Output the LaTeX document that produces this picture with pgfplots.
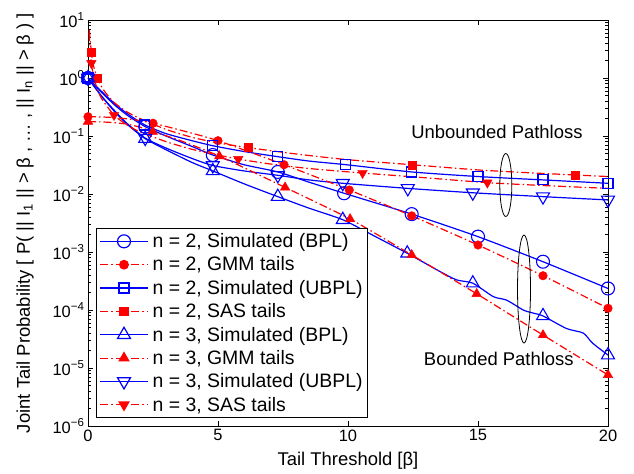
\documentclass[border=0pt]{standalone}
\usepackage{fontspec}
\setmainfont{Liberation Sans}
\usepackage{pgfplots}
\pgfplotsset{compat=1.18}

\begin{document}
\begin{tikzpicture}
\begin{axis}[
    scale only axis,
    width=520bp, height=406bp,
    ymode=log,
    xmin=0, xmax=20, ymin=1e-6, ymax=10,
    xtick={0,5,10,15,20},
    ytick={1e-6,1e-5,1e-4,1e-3,1e-2,1e-1,1,10},
    yticklabels={10\textsuperscript{−6},10\textsuperscript{−5},10\textsuperscript{−4},10\textsuperscript{−3},10\textsuperscript{−2},10\textsuperscript{−1},10\textsuperscript{0},10\textsuperscript{1}},
    /pgf/number format/assume math mode=true,
    tick label style={font=\fontsize{16.5}{18}\selectfont},
    tick align=inside, tick pos=both,
    major tick length=5bp, minor tick length=3bp,
    axis line style={line width=0.8bp},
    every tick/.style={black, line width=0.6bp},
    xlabel={Tail Threshold [β]},
    ylabel={Joint Tail Probability [ P( || I\textsubscript{1} || > β , … , || I\textsubscript{n} || > β ) ]},
    every axis x label/.style={at={(axis description cs:0.5,-0.086)}, anchor=center, font=\fontsize{18.5}{20}\selectfont},
    every axis y label/.style={at={(axis description cs:-0.121,0.5)}, anchor=center, rotate=90, font=\fontsize{18.5}{20}\selectfont},
    legend style={at={(axis description cs:0.0154,0.0197)}, anchor=south west,
      font=\fontsize{19.5}{21}\selectfont, draw=black, line width=0.8bp,
      row sep=3.8bp, column sep=2bp, inner sep=3bp},
    legend cell align=left,
    legend image code/.code={\draw[mark repeat=2,mark phase=2,#1] plot coordinates {(0bp,0bp) (24bp,0bp) (48bp,0bp)};},
    clip=true,
]
% ---- simulated curves (blue, solid)
\addplot[blue, line width=1.2bp, smooth, tension=0.4, forget plot] coordinates {
 (0,1) (0.5,0.58) (1,0.35) (1.5,0.23) (2.2,0.145) (3,0.1) (4,0.066) (4.8,0.047)
 (6,0.032) (7.3,0.024) (8.5,0.016) (9.85,0.0103) (12.45,0.0045) (15,0.00184)
 (17.5,6.8e-4) (20,2.35e-4)};
\addplot[blue, line width=1.2bp, smooth, tension=0.4, forget plot] coordinates {
 (0,1) (0.5,0.6) (1,0.37) (1.5,0.245) (2.19,0.155) (3,0.11) (4,0.083) (4.8,0.068)
 (6,0.054) (7.3,0.044) (8.5,0.037) (9.92,0.032) (12.45,0.024) (15,0.020)
 (17.5,0.0175) (20,0.0153)};
\addplot[blue, line width=1.2bp, smooth, tension=0.4, forget plot] coordinates {
 (0,1) (0.5,0.5) (1,0.27) (1.5,0.16) (2.2,0.09) (3,0.058) (4,0.035) (4.8,0.025)
 (6,0.015) (7.3,0.009) (8.5,0.0057) (9.8,0.0036) (11,0.0019) (12.28,9.5e-4)
 (13.54,4.6e-4) (14.18,3.3e-4) (14.8,2.9e-4) (15.59,1.7e-4) (16.1,1.48e-4)
 (16.74,1.0e-4) (17.1,8.9e-5) (17.5,7.9e-5) (18.4,4.8e-5) (19.05,4.0e-5)
 (19.4,2.7e-5) (20,1.67e-5)};
\addplot[blue, line width=1.2bp, smooth, tension=0.4, forget plot] coordinates {
 (0,1) (0.5,0.5) (1,0.28) (1.5,0.165) (2.2,0.092) (3,0.062) (4,0.041) (4.8,0.031)
 (6,0.025) (7.3,0.021) (8.5,0.0175) (9.8,0.0153) (12.3,0.0125) (14.8,0.0105)
 (17.5,0.009) (20,0.0079)};
% ---- model tails (red, dash-dot)
\addplot[red, line width=1.2bp, dash pattern=on 8bp off 3bp on 1.5bp off 3bp, smooth, tension=0.4, forget plot] coordinates {
 (0,0.215) (0.5,0.213) (1,0.208) (1.5,0.198) (2,0.184) (2.5,0.166) (3.5,0.128)
 (5,0.083) (7.54,0.032) (10.05,0.0117) (12.45,0.0042) (15,0.00132) (17.5,3.9e-4)
 (20,1.07e-4)};
\addplot[red, line width=1.2bp, dash pattern=on 8bp off 3bp on 1.5bp off 3bp, smooth, tension=0.4, forget plot] coordinates {
 (0.05,6.7) (0.13,2.8) (0.2,1.7) (0.36,1.0) (0.6,0.62) (1,0.38) (1.5,0.26) (2,0.2)
 (3,0.13) (4,0.095) (5,0.076) (6.17,0.063) (8,0.049) (10,0.039) (12.45,0.032)
 (15,0.026) (17,0.0232) (18.73,0.0213) (20,0.02)};
\addplot[red, line width=1.2bp, dash pattern=on 8bp off 3bp on 1.5bp off 3bp, smooth, tension=0.4, forget plot] coordinates {
 (0,0.177) (0.5,0.175) (1,0.17) (1.5,0.16) (2,0.142) (2.49,0.119) (3.5,0.085)
 (5.05,0.045) (7.58,0.013) (10.08,0.0037) (12.45,8.9e-4) (14.95,1.9e-4)
 (17.5,3.7e-5) (20,7.6e-6)};
\addplot[red, line width=1.2bp, dash pattern=on 8bp off 3bp on 1.5bp off 3bp, smooth, tension=0.4, forget plot] coordinates {
 (0.04,6) (0.13,1.8) (0.25,0.92) (0.5,0.46) (1,0.23) (1.5,0.155) (2,0.118) (3,0.08)
 (4,0.059) (5,0.047) (5.78,0.04) (7,0.033) (8.5,0.0275) (10.56,0.023) (13,0.019)
 (15.36,0.0157) (17.5,0.014) (20,0.0125)};
% ---- markers
\addplot[blue, only marks, mark=o, mark size=6.5bp, line width=1.1bp, forget plot] coordinates {
 (0,1) (2.2,0.145) (4.8,0.047) (7.3,0.024) (9.85,0.0103) (12.45,0.0045) (15,0.00184) (17.5,6.8e-4) (20,2.35e-4)};
\addplot[red, only marks, mark=*, mark size=4.3bp, forget plot] coordinates {
 (0,0.215) (2.5,0.166) (5,0.083) (7.54,0.032) (10.05,0.0117) (12.45,0.0042) (15,0.00132) (17.5,3.9e-4) (20,1.07e-4)};
\addplot[blue, only marks, mark=square, mark size=5bp, line width=1.1bp, forget plot] coordinates {
 (0,1) (2.19,0.155) (4.8,0.068) (7.3,0.044) (9.92,0.032) (12.45,0.024) (15,0.020) (17.5,0.0175) (20,0.0153)};
\addplot[red, only marks, mark=square*, mark size=4bp, forget plot] coordinates {
 (0.13,2.8) (0.36,1.0) (6.17,0.063) (12.45,0.032) (18.73,0.0213)};
\addplot[blue, only marks, mark=triangle, mark size=7.5bp, line width=1.1bp, forget plot] coordinates {
 (0,1) (2.2,0.09) (4.8,0.025) (7.3,0.009) (9.8,0.0036) (12.28,9.5e-4) (14.8,2.9e-4) (17.5,7.9e-5) (20,1.67e-5)};
\addplot[red, only marks, mark=triangle*, mark size=5.5bp, forget plot] coordinates {
 (0,0.177) (2.49,0.119) (5.05,0.045) (7.58,0.013) (10.08,0.0037) (12.45,8.9e-4) (14.95,1.9e-4) (17.5,3.7e-5) (20,7.6e-6)};
\addplot[blue, only marks, mark=triangle, mark options={rotate=180}, mark size=7.5bp, line width=1.1bp, forget plot] coordinates {
 (0,1) (2.2,0.092) (4.8,0.031) (7.3,0.021) (9.8,0.0153) (12.3,0.0125) (14.8,0.0105) (17.5,0.009) (20,0.0079)};
\addplot[red, only marks, mark=triangle*, mark options={rotate=180}, mark size=5.5bp, forget plot] coordinates {
 (0.13,1.8) (1,0.23) (5.78,0.04) (10.56,0.023) (15.36,0.0157)};
% ---- legend
\addlegendimage{blue, line width=1.2bp, mark=o, mark size=6.5bp}
\addlegendentry{n = 2, Simulated (BPL)}
\addlegendimage{red, line width=1.2bp, dash pattern=on 8bp off 3bp on 1.5bp off 3bp, mark=*, mark size=4.3bp, mark options={solid}}
\addlegendentry{n = 2, GMM tails}
\addlegendimage{blue, line width=1.2bp, mark=square, mark size=5bp}
\addlegendentry{n = 2, Simulated (UBPL)}
\addlegendimage{red, line width=1.2bp, dash pattern=on 8bp off 3bp on 1.5bp off 3bp, mark=square*, mark size=4bp, mark options={solid}}
\addlegendentry{n = 2, SAS tails}
\addlegendimage{blue, line width=1.2bp, mark=triangle, mark size=7.5bp}
\addlegendentry{n = 3, Simulated (BPL)}
\addlegendimage{red, line width=1.2bp, dash pattern=on 8bp off 3bp on 1.5bp off 3bp, mark=triangle*, mark size=5.5bp, mark options={solid}}
\addlegendentry{n = 3, GMM tails}
\addlegendimage{blue, line width=1.2bp, mark=triangle, mark size=7.5bp, mark options={rotate=180}}
\addlegendentry{n = 3, Simulated (UBPL)}
\addlegendimage{red, line width=1.2bp, dash pattern=on 8bp off 3bp on 1.5bp off 3bp, mark=triangle*, mark size=5.5bp, mark options={solid, rotate=180}}
\addlegendentry{n = 3, SAS tails}
% ---- annotations
\draw[black, line width=0.8bp] (axis cs:16.07,0.01429) ellipse [x radius=6bp, y radius=31.5bp];
\draw[black, line width=0.8bp] (axis cs:16.77,2.3e-4) ellipse [x radius=6.5bp, y radius=54bp];
\node[font=\fontsize{18.5}{20}\selectfont] at (axis cs:15.73,0.1175) {Unbounded Pathloss};
\node[font=\fontsize{18.5}{20}\selectfont] at (axis cs:15.8,1.43e-5) {Bounded Pathloss};
\end{axis}
\path (current axis.south west) ++(-88bp,-48bp) coordinate (bl);
\path (current axis.north east) ++(26bp,20bp) coordinate (tr);
\pgfresetboundingbox
\path[use as bounding box] (bl) rectangle (tr);
\end{tikzpicture}
\end{document}
